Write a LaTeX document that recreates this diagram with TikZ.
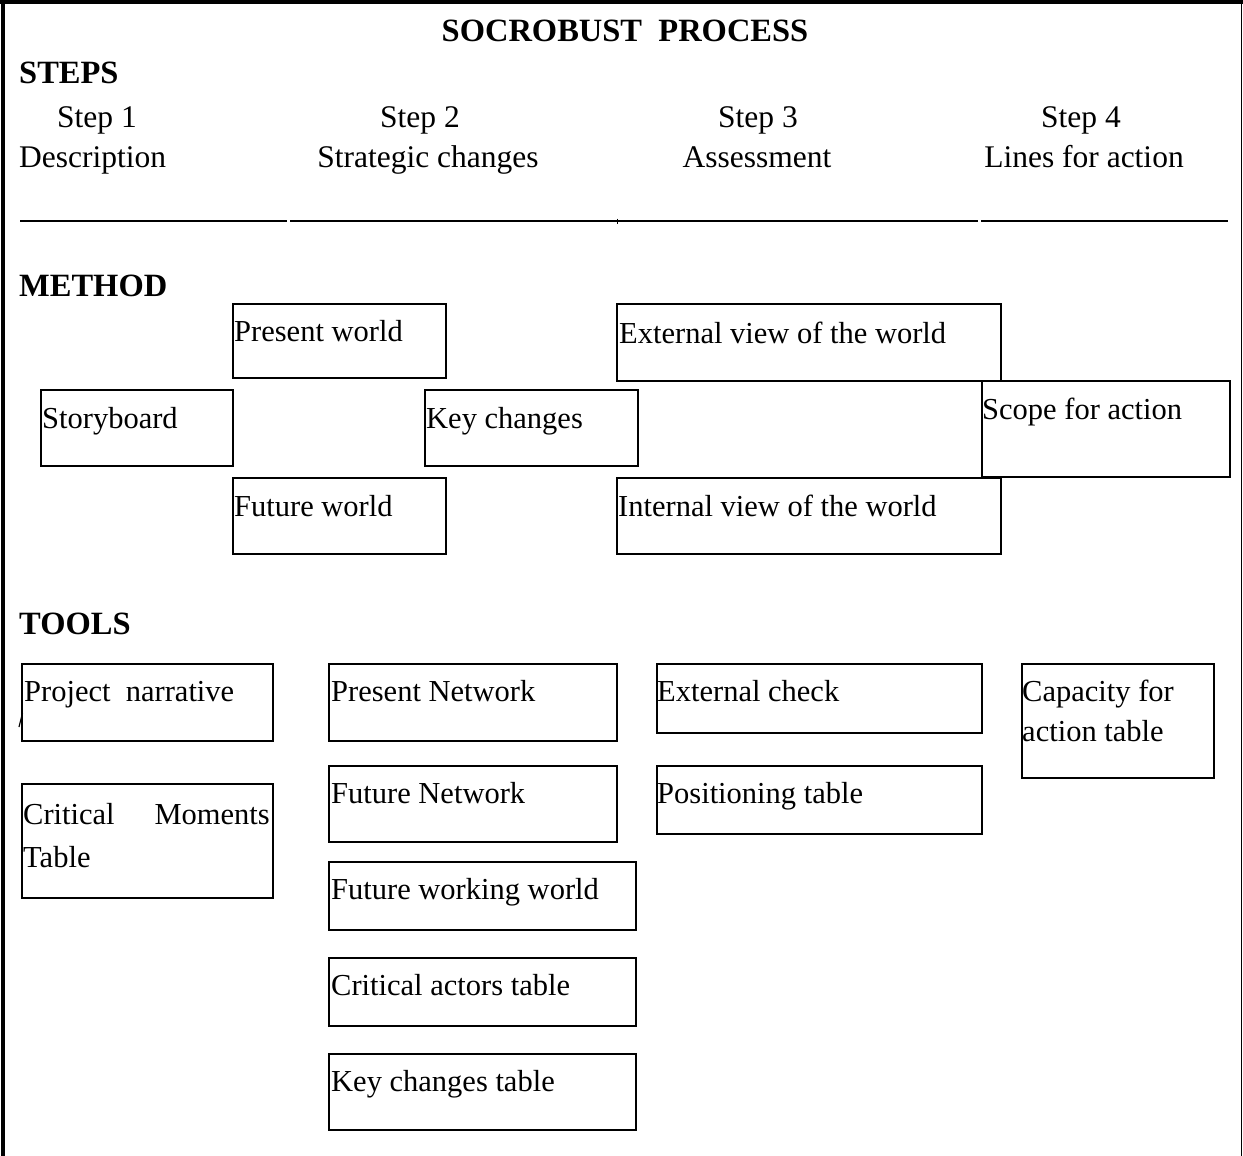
\documentclass[tikz,border=0pt]{standalone}
\usepackage{fontspec}
\setmainfont{Liberation Serif}
\begin{document}
\begin{tikzpicture}[x=1pt,y=-1pt,
  box/.style={draw,line width=1.4pt,anchor=north west,inner sep=0pt,outer sep=0pt},
  lbl/.style={anchor=base west,inner sep=0pt,font=\fontsize{30.5}{36}\selectfont},
  steptxt/.style={anchor=base,inner sep=0pt,font=\fontsize{31.5}{37}\selectfont},
  head/.style={anchor=base west,inner sep=0pt,font=\fontsize{32.5}{38}\selectfont\bfseries},
  rule/.style={line width=1.8pt}]
\useasboundingbox (0,0) rectangle (1243,1156);
% outer frame (top, left, right)
\draw[line width=4pt] (0,2) -- (1243,2);
\draw[line width=4pt] (3,0) -- (3,1156);
\draw[line width=1.8pt] (1241.5,0) -- (1241.5,1156);

% title and section headings
\node[anchor=base,inner sep=0pt,font=\fontsize{32.5}{38}\selectfont\bfseries] (title) at (625,42) {SOCROBUST\ \ PROCESS};
\node[head] (hsteps) at (19,84) {STEPS};
\node[head] (hmethod) at (19,296) {METHOD};
\node[head] (htools) at (19,634) {TOOLS};

% step columns
\node[steptxt] (s1) at (97,128) {Step 1};
\node[steptxt,anchor=base west] (s1b) at (19,167) {Description};
\node[steptxt] (s2) at (420,128) {Step 2};
\node[steptxt] (s2b) at (428,167) {Strategic changes};
\node[steptxt] (s3) at (758,128) {Step 3};
\node[steptxt] (s3b) at (757,167) {Assessment};
\node[steptxt] (s4) at (1081,128) {Step 4};
\node[steptxt] (s4b) at (1084,167) {Lines for action};

% underlines below the step columns
\coordinate (u0) at (20,221);  \coordinate (u1) at (287,221);
\coordinate (u2) at (290,221); \coordinate (u3) at (617,221);
\coordinate (u4) at (978,221); \coordinate (u5) at (981,221);
\coordinate (u6) at (1228,221);
\draw[rule] (u0) -- (u1);
\draw[rule] (u2) -- (u3);
\draw[rule] (u3) -- (u4);
\draw[rule] (u5) -- (u6);
\draw[line width=1pt] (617,218.5) -- (617,223.5);

% method boxes
\node[box,minimum width=213pt,minimum height=74pt] (pw) at (233,304) {};
\node[lbl] (pwt) at ([xshift=1pt,yshift=-37pt]pw.north west) {Present world};
\node[box,minimum width=192pt,minimum height=76pt] (sb) at (41,390) {};
\node[lbl] (sbt) at ([xshift=1pt,yshift=-38pt]sb.north west) {Storyboard};
\node[box,minimum width=213pt,minimum height=76pt] (kc) at (425,390) {};
\node[lbl] (kct) at ([xshift=1pt,yshift=-38pt]kc.north west) {Key changes};
\node[box,minimum width=213pt,minimum height=76pt] (fw) at (233,478) {};
\node[lbl] (fwt) at ([xshift=1pt,yshift=-38pt]fw.north west) {Future world};
\node[box,minimum width=384pt,minimum height=77pt] (ev) at (617,304) {};
\node[lbl] (evt) at ([xshift=2pt,yshift=-39pt]ev.north west) {External view of the world};
\node[box,minimum width=384pt,minimum height=76pt] (iv) at (617,478) {};
\node[lbl] (ivt) at ([xshift=1pt,yshift=-38pt]iv.north west) {Internal view of the world};
\node[box,minimum width=248pt,minimum height=96pt] (sa) at (982,381) {};
\node[lbl] (sat) at ([xshift=0pt,yshift=-38pt]sa.north west) {Scope for action};

% tool boxes, first column
\node[box,minimum width=251pt,minimum height=77pt] (pn) at (22,664) {};
\node[lbl] (pnt) at ([xshift=2pt,yshift=-37pt]pn.north west) {Project\ \ narrative};
\draw[line width=1.1pt] (19,727) -- (22.5,713);
\node[box,minimum width=251pt,minimum height=114pt] (cm) at (22,784) {};
\node[lbl] (cmt1) at ([xshift=1pt,yshift=-40pt]cm.north west) {Critical};
\node[lbl,anchor=base east] (cmt2) at ([xshift=-3pt,yshift=-40pt]cm.north east) {Moments};
\node[lbl] (cmt3) at ([xshift=1pt,yshift=-83pt]cm.north west) {Table};

% tool boxes, second column
\node[box,minimum width=288pt,minimum height=77pt] (pnet) at (329,664) {};
\node[lbl] (pnett) at ([xshift=2pt,yshift=-37pt]pnet.north west) {Present\ Network};
\node[box,minimum width=288pt,minimum height=76pt] (fnet) at (329,766) {};
\node[lbl] (fnett) at ([xshift=2pt,yshift=-37pt]fnet.north west) {Future Network};
\node[box,minimum width=307pt,minimum height=68pt] (fww) at (329,862) {};
\node[lbl] (fwwt) at ([xshift=2pt,yshift=-37pt]fww.north west) {Future working world};
\node[box,minimum width=307pt,minimum height=68pt] (cat) at (329,958) {};
\node[lbl] (catt) at ([xshift=2pt,yshift=-37pt]cat.north west) {Critical actors table};
\node[box,minimum width=307pt,minimum height=76pt] (kct2) at (329,1054) {};
\node[lbl] (kct2t) at ([xshift=2pt,yshift=-37pt]kct2.north west) {Key changes table};

% tool boxes, third column
\node[box,minimum width=325pt,minimum height=69pt] (ec) at (657,664) {};
\node[lbl] (ect) at ([xshift=0pt,yshift=-37pt]ec.north west) {External\ check};
\node[box,minimum width=325pt,minimum height=68pt] (pt) at (657,766) {};
\node[lbl] (ptt) at ([xshift=0pt,yshift=-37pt]pt.north west) {Positioning table};

% tool box, fourth column
\node[box,minimum width=192pt,minimum height=114pt] (cf) at (1022,664) {};
\node[lbl] (cft1) at ([xshift=0pt,yshift=-37pt]cf.north west) {Capacity\ for};
\node[lbl] (cft2) at ([xshift=0pt,yshift=-77pt]cf.north west) {action table};
\end{tikzpicture}
\end{document}
